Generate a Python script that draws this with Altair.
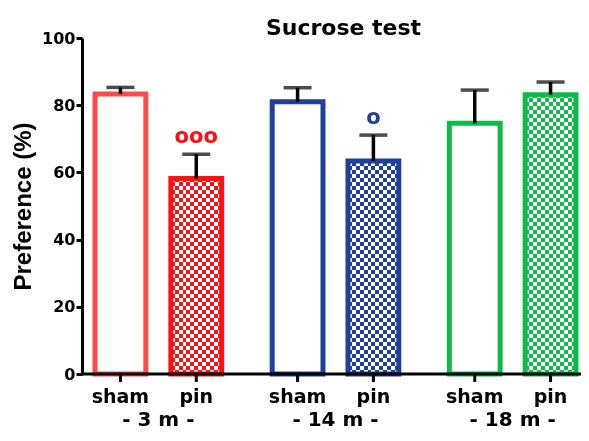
import altair as alt
import pandas as pd

# ---- data ----
groups = ["- 3 m -", "- 3 m -", "- 14 m -", "- 14 m -", "- 18 m -", "- 18 m -"]
conditions = ["sham", "pin", "sham", "pin", "sham", "pin"]
bar_ids = ["3m sham", "3m pin", "14m sham", "14m pin", "18m sham", "18m pin"]
values = [83.3, 58.2, 81.0, 63.4, 74.6, 83.1]
errors = [2.0, 7.2, 4.2, 7.7, 9.9, 3.8]
annotations = ["", "ooo", "", "o", "", ""]
bar_colors = ["#ff4a4a", "#ff1010", "#1f3f9c", "#1f3f9c", "#0fbb48", "#0fbb48"]
group_order = ["- 3 m -", "- 14 m -", "- 18 m -"]
cond_order = ["sham", "pin"]
y_ticks = [0, 20, 40, 60, 80, 100]

W, H = 499, 336
FONT = "DejaVu Sans"

df = pd.DataFrame({
    "group": groups, "condition": conditions, "bar": bar_ids,
    "value": values, "error": errors, "mark": annotations,
})
df["upper"] = df["value"] + df["error"]
df["top"] = 100
df["zero"] = 0

x_enc = alt.X("group:N", sort=group_order, axis=None,
              scale=alt.Scale(domain=group_order, range=[0, 507],
                              paddingInner=0.144, paddingOuter=0.003))
xo_enc = alt.XOffset("condition:N", sort=cond_order,
                     scale=alt.Scale(domain=cond_order, paddingInner=0.33, paddingOuter=0.165))
y_scale = alt.Scale(domain=[0, 100], nice=False, zero=True)
y_axis = alt.Axis(values=y_ticks, title="Preference (%)", grid=False,
                  domainColor="black", domainWidth=3, tickColor="black", tickWidth=3,
                  tickSize=6, labelFont=FONT, labelFontSize=16, labelFontWeight="bold",
                  labelColor="black", labelPadding=1, titleFont="Liberation Sans",
                  titleFontSize=24, titleFontWeight="bold", titleColor="black",
                  titlePadding=6)
color_scale = alt.Scale(domain=bar_ids, range=bar_colors)


def Y(field):
    return alt.Y(field, type="quantitative", scale=y_scale, axis=y_axis)


def stripes(n, horizontal):
    stops = []
    for i in range(n):
        c = "black" if i % 2 == 0 else "white"
        stops.append(alt.GradientStop(color=c, offset=i / n))
        stops.append(alt.GradientStop(color=c, offset=(i + 1) / n))
    if horizontal:
        return alt.LinearGradient(gradient="linear", stops=stops, x1=0, x2=0, y1=0, y2=1)
    return alt.LinearGradient(gradient="linear", stops=stops, x1=0, x2=1, y1=0, y2=0)


base = alt.Chart(df)
pin = base.transform_filter(alt.datum.condition == "pin")

# checkerboard built from two stripe fills combined with blend modes
h_stripes = pin.mark_bar(fill=stripes(84, True)).encode(
    x=x_enc, xOffset=xo_enc, y=Y("top"), y2=alt.Y2("zero"))
cover = pin.mark_bar(fill="white", stroke="white", strokeWidth=2).encode(
    x=x_enc, xOffset=xo_enc, y=Y("top"), y2=alt.Y2("value"))
v_stripes = pin.mark_bar(fill=stripes(13, False), blend="difference").encode(
    x=x_enc, xOffset=xo_enc, y=Y("value"))
tint = pin.mark_bar(blend="screen").encode(
    x=x_enc, xOffset=xo_enc, y=Y("value"),
    fill=alt.Fill("bar:N", scale=color_scale, legend=None))

outline = base.mark_bar(fillOpacity=0, strokeWidth=5).encode(
    x=x_enc, xOffset=xo_enc, y=Y("value"),
    stroke=alt.Stroke("bar:N", scale=color_scale, legend=None))

one = base.transform_filter(alt.datum.bar == "3m sham")
x_axis_line = one.mark_rule(color="black", strokeWidth=3).encode(
    x=alt.value(0), x2=alt.value(W), y=Y("zero"))

err_line = base.mark_rule(color="black", strokeWidth=3.5).encode(
    x=x_enc, xOffset=xo_enc, y=Y("value"), y2=alt.Y2("upper"))
err_cap = base.mark_tick(color="black", size=28, thickness=3.5).encode(
    x=x_enc, xOffset=xo_enc, y=Y("upper"))

annot = pin.mark_text(font=FONT, fontSize=21, fontWeight="bold", baseline="alphabetic",
                      dy=-11).encode(
    x=x_enc, xOffset=xo_enc, y=Y("upper"),
    text="mark:N", color=alt.Color("bar:N", scale=color_scale, legend=None))

x_ticks = base.mark_rule(color="black", strokeWidth=3).encode(
    x=x_enc, xOffset=xo_enc, y=alt.value(H), y2=alt.value(H + 8))
cond_labels = base.mark_text(font=FONT, fontSize=19, fontWeight="bold", color="black",
                             baseline="alphabetic").encode(
    x=x_enc, xOffset=xo_enc, y=alt.value(H + 29), text="condition:N")
group_labels = base.transform_filter(alt.datum.condition == "sham").mark_text(
    font=FONT, fontSize=20, fontWeight="bold", color="black", baseline="alphabetic").encode(
    x=x_enc, y=alt.value(H + 52), text="group:N")

chart = alt.layer(
    h_stripes, cover, v_stripes, tint, outline, x_axis_line,
    err_line, err_cap, annot, x_ticks, cond_labels, group_labels,
).properties(
    width=W, height=H,
    title=alt.TitleParams("Sucrose test", font=FONT, fontSize=22, fontWeight="bold",
                          color="black", anchor="middle", dx=12, offset=-27,
                          baseline="alphabetic"),
    autosize=alt.AutoSizeParams(type="none"),
    padding={"left": 74, "top": 30, "right": 0, "bottom": 57},
    background="white",
).configure_view(stroke=None)

chart.save("out.html", embed_options={"renderer": "svg", "actions": False})
